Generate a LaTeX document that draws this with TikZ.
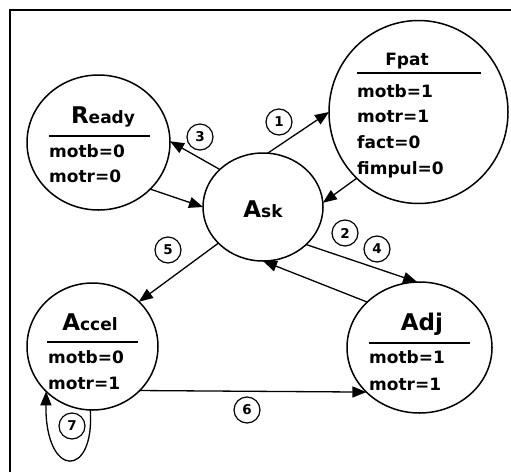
\documentclass[tikz,border=0pt]{standalone}
\usepackage{fontspec}
\setmainfont{DejaVu Sans}
\usetikzlibrary{shapes.geometric,arrows.meta}

\newcommand{\bodyfont}{\fontsize{17}{19}\selectfont\bfseries}
\newcommand{\bigfont}{\fontsize{23}{25}\selectfont\bfseries}
\newcommand{\numfont}{\fontsize{13.5}{15}\selectfont\bfseries}

\begin{document}
\begin{tikzpicture}[x=1pt,y=-1pt,
  state/.style={draw,ellipse,line width=1.5pt,inner sep=0pt,outer sep=0pt},
  title/.style={anchor=base,inner sep=0pt,font=\bodyfont},
  field/.style={anchor=base west,inner sep=0pt,font=\bodyfont},
  divider/.style={line width=2pt},
  edge/.style={line width=1.3pt,-{Triangle[length=14pt,width=11pt]}},
  tag/.style={draw,circle,line width=1.2pt,minimum size=26pt,inner sep=0pt,font=\numfont}]

\useasboundingbox (0,0) rectangle (511,472);

% frame
\draw[line width=2pt] (10,472) -- (10,10) -- (511,10);

% states
\node[state,minimum width=143pt,minimum height=135pt] (ready) at (98.5,142.5) {};
\node[state,minimum width=179pt,minimum height=183pt] (fpat) at (418.5,112) {};
\node[state,minimum width=120pt,minimum height=108pt] (ask) at (263,207) {};
\node[state,minimum width=131pt,minimum height=127pt] (accel) at (92.5,346.5) {};
\node[state,minimum width=145pt,minimum height=131pt] (adj) at (419.5,347.5) {};

% Ready
\node[title] (readyT) at (103,123) {{\bigfont R}eady};
\draw[divider] (49,136) -- (150,136);
\node[field] (readyA) at (49,157) {motb=0};
\node[field] (readyB) at (49,182) {motr=0};

% Fpat
\node[title] (fpatT) at (407,65) {Fpat};
\draw[divider] (357,73) -- (481,73);
\node[field] (fpatA) at (357,97) {motb=1};
\node[field] (fpatB) at (357,122) {motr=1};
\node[field] (fpatC) at (357,148) {fact=0};
\node[field] (fpatD) at (357,174) {fimpul=0};

% Ask
\node[title] (askT) at (263,217) {{\bigfont A}sk};

% Accel
\node[title] (accelT) at (90,330) {{\bigfont A}ccel};
\draw[divider] (47,342) -- (138,342);
\node[field] (accelA) at (48,363) {motb=0};
\node[field] (accelB) at (48,389) {motr=1};

% Adj
\node[title,font=\bigfont] (adjT) at (422,330) {Adj};
\draw[divider] (369,343) -- (470,343);
\node[field] (adjA) at (369,363) {motb=1};
\node[field] (adjB) at (369,390) {motr=1};

% transitions
\draw[edge] (ask.85) -- (fpat.180);
\draw[edge] (fpat.227) -- (ask.4);
\draw[edge] (ask.139) -- (ready.1);
\draw[edge] (ready.-42) -- (ask.180);
\draw[edge] (ask.219) -- (accel.44);
\draw[edge] (ask.-41) -- (adj.92);
\draw[edge] (adj.139) -- (ask.270);
\draw[edge] (accel.-43) -- (adj.220);
\draw[edge] (accel.268) .. controls (95,479) and (45,479) .. (accel.224);

% transition numbers
\node[tag] (t1) at (279,122) {1};
\node[tag] (t2) at (345,233) {2};
\node[tag] (t3) at (200,137) {3};
\node[tag] (t4) at (377,249) {4};
\node[tag] (t5) at (168,250) {5};
\node[tag] (t6) at (247,410) {6};
\node[tag] (t7) at (72,426) {7};

\end{tikzpicture}
\end{document}
